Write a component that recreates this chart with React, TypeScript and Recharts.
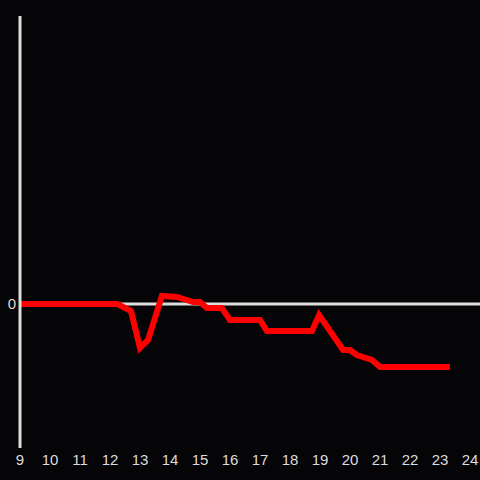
import { LineChart, Line, XAxis, YAxis, ReferenceLine } from 'recharts';

const hours = [9, 12.25, 12.7, 13.0, 13.27, 13.73, 14.23, 14.77, 15.0, 15.23, 15.73, 16.0, 17.0, 17.23, 18.73, 18.97, 19.77, 20.0, 20.23, 20.73, 21.0, 23.33];
const values = [0, 0, -7, -44, -36, 8, 7, 2, 2, -4, -4, -16, -16, -27, -27, -11, -46, -46, -51, -56, -63, -63];
const xTicks = [9, 10, 11, 12, 13, 14, 15, 16, 17, 18, 19, 20, 21, 22, 23, 24];

const data = hours.map((h, i) => ({ h, v: values[i] }));

const AXIS = '#dddddd';
const FONT = '"Liberation Sans", Arial, sans-serif';

export default function App() {
  return (
    <div style={{ position: 'fixed', left: 0, top: 0, width: 480, height: 480, background: '#050407' }}>
      <LineChart width={480} height={480} data={data} margin={{ top: 16, right: 0, bottom: 0, left: 0 }}>
        <XAxis
          dataKey="h"
          type="number"
          domain={[9, 24.333]}
          ticks={xTicks}
          axisLine={false}
          tickLine={false}
          tickSize={0}
          tickMargin={6}
          height={32}
          interval={0}
          tick={{ fill: AXIS, fontSize: 15, fontFamily: FONT }}
        />
        <YAxis
          type="number"
          domain={[-144, 288]}
          ticks={[0]}
          width={20}
          axisLine={{ stroke: AXIS, strokeWidth: 3 }}
          tickLine={false}
          tickSize={0}
          tickMargin={4}
          tick={{ fill: AXIS, fontSize: 15, fontFamily: FONT }}
        />
        <ReferenceLine y={0} stroke={AXIS} strokeWidth={3} />
        <Line
          type="linear"
          dataKey="v"
          stroke="#ff0000"
          strokeWidth={6}
          dot={false}
          isAnimationActive={false}
        />
      </LineChart>
    </div>
  );
}
